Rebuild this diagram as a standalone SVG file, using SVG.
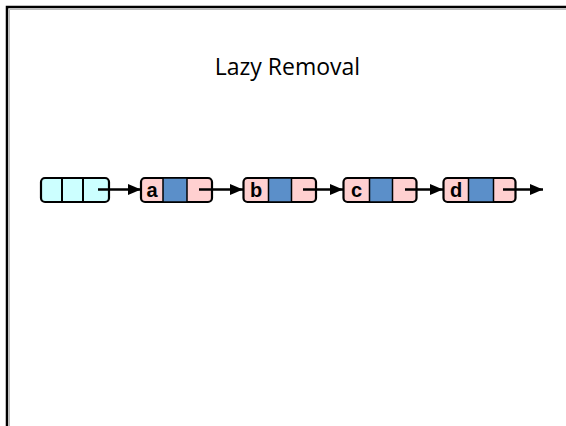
<svg xmlns="http://www.w3.org/2000/svg" width="566" height="426" viewBox="0 0 566 426">
  <defs>
    <style>
      .box { stroke: #000; stroke-width: 2.2; }
      .sent { fill: #CCFFFF; }
      .pink { fill: #FFD0D0; }
      .blue { fill: #5B8FC9; stroke: #000; stroke-width: 1.5; }
      .div { stroke: #000; stroke-width: 2; }
      .lbl { font-family: "Liberation Sans", Arial, sans-serif; font-weight: bold; font-size: 20px; text-anchor: middle; fill: #000; }
      .title { font-family: "Open Sans", "Noto Sans", sans-serif; font-size: 23px; text-anchor: middle; fill: #000; }
      .conn { stroke: #000; stroke-width: 2.5; fill: none; marker-end: url(#ah); }
    </style>
    <marker id="ah" markerUnits="userSpaceOnUse" markerWidth="13" markerHeight="11" refX="13" refY="5.5" orient="auto">
      <path d="M0,0 L13,5.5 L0,11 Z" fill="#000"/>
    </marker>
  </defs>
  <rect width="566" height="426" fill="#fff"/>
  <path d="M9.5,426 V9.5 H566" stroke="#bbb" stroke-width="1" fill="none"/>
  <path d="M7,426 V7 H566" stroke="#000" stroke-width="2.5" fill="none"/>

  <text class="title" x="287.5" y="75">Lazy Removal</text>

  <g id="sentinel">
    <rect class="box sent" x="41" y="178" width="68" height="24" rx="4"/>
    <line class="div" x1="62" y1="178" x2="62" y2="202"/>
    <line class="div" x1="83" y1="178" x2="83" y2="202"/>
  </g>
  <g id="node-a">
    <rect class="box pink" x="141" y="178" width="71" height="24" rx="4"/>
    <rect class="blue" x="163" y="178" width="24" height="24"/>
    <text class="lbl" x="152" y="197">a</text>
  </g>
  <g id="node-b">
    <rect class="box pink" x="243.5" y="178" width="72.5" height="24" rx="4"/>
    <rect class="blue" x="268.5" y="178" width="23" height="24"/>
    <text class="lbl" x="256" y="197">b</text>
  </g>
  <g id="node-c">
    <rect class="box pink" x="343.5" y="178" width="73" height="24" rx="4"/>
    <rect class="blue" x="369.5" y="178" width="23" height="24"/>
    <text class="lbl" x="356.5" y="197">c</text>
  </g>
  <g id="node-d">
    <rect class="box pink" x="443.5" y="178" width="72" height="24" rx="4"/>
    <rect class="blue" x="468.5" y="178" width="25" height="24" stroke-width="2"/>
    <text class="lbl" x="456" y="197">d</text>
  </g>

  <g id="connectors">
    <line class="conn" x1="98" y1="189.5" x2="141" y2="189.5"/>
    <line class="conn" x1="199" y1="189.5" x2="243" y2="189.5"/>
    <line class="conn" x1="303" y1="189.5" x2="343" y2="189.5"/>
    <line class="conn" x1="405" y1="189.5" x2="443" y2="189.5"/>
    <line class="conn" x1="503" y1="189.5" x2="543" y2="189.5"/>
  </g>
</svg>
